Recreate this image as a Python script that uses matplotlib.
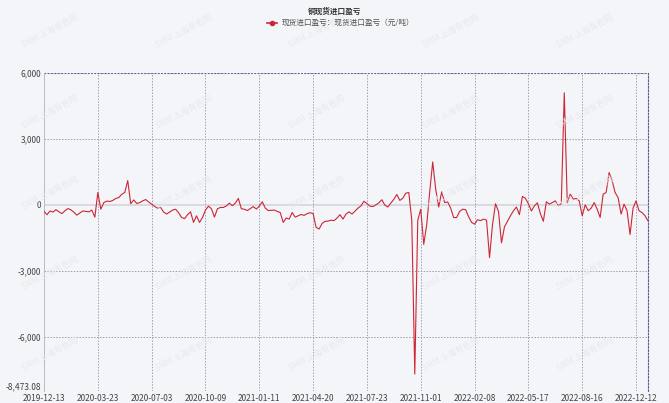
import matplotlib.pyplot as plt
import numpy as np

plt.rcParams['font.family'] = ['Noto Sans CJK SC', 'DejaVu Sans']

title = '铜现货进口盈亏'
series_name = '现货进口盈亏：现货进口盈亏（元/吨）'
tick_labels = ['2019-12-13', '2020-03-23', '2020-07-03', '2020-10-09', '2021-01-11', '2021-04-20',
               '2021-07-23', '2021-11-01', '2022-02-08', '2022-05-17', '2022-08-16', '2022-12-12']
y_ticks = [6000, 3000, 0, -3000, -6000, -8473.08]
y_tick_labels = ['6,000', '3,000', '0', '-3,000', '-6,000', '-8,473.08']

# profit/loss values (yuan/ton)
values = [
    -300, -450, -280, -330, -220, -320, -400, -270, -170, -230,
    -340, -470, -370, -280, -300, -320, -240, -560, 560, -200,
    100, 170, 150, 200, 290, 330, 480, 560, 1100, 50,
    220, 60, 100, 180, 240, 130, 30, -70, -160, -120,
    -330, -420, -330, -240, -200, -360, -575, -630, -450, -320,
    -800, -500, -800, -580, -240, -60, -180, -560, -180, -120,
    -120, -50, 75, -40, 80, 290, -180, -200, -260, -170,
    -80, -190, -60, 140, -150, -260, -250, -240, -300, -350,
    -800, -600, -650, -350, -560, -500, -440, -480, -400, -360,
    -400, -1030, -1100, -850, -750, -740, -700, -720, -600, -450,
    -650, -420, -320, -420, -290, -150, -50, 160, 60, -60,
    -80, 0, 90, 230, -20, -100, 80, 250, 470, 200,
    300, 530, 560, -700, -7703, -700, -200, -1800, -900, 600,
    1950, 700, -100, 590, 100, 130, -150, -580, -580, -300,
    -200, -220, -540, -800, -880, -680, -720, -650, -700, -2400,
    -900, 50, -300, -1730, -1000, -750, -500, -270, -100, -450,
    380, 300, 50, -280, -50, 90, -400, -750, 140, 30,
    100, 180, -45, 50, 5100, 100, 485, 260, 290, 180,
    -500, 0, -270, -150, 100, -200, -575, 485, 560, 1470,
    1100, 560, 330, -420, 30, -270, -1350, -150, 180, -270,
    -350, -500, -730,
]
tick_step = 18

bg = '#f4f5f8'
red = '#cc2635'
fig = plt.figure(figsize=(6.69, 4.03), dpi=100, facecolor=bg)
ax = fig.add_axes([0.0658, 0.0298, 0.9028, 0.7891], facecolor=bg)

# watermark
for wx in np.arange(0.03, 1.0, 0.2):
    for wy in np.arange(0.08, 0.95, 0.2):
        fig.text(wx, wy, 'SMM 上海有色网', fontsize=6, color='#e8e9ed', rotation=28, zorder=0)

x = np.arange(len(values))
ax.plot(x, values, color=red, linewidth=0.8, zorder=3)

ax.set_xlim(0, len(values) - 1)
ax.set_ylim(-8473.08, 6000)
ax.set_yticks(y_ticks)
ax.set_yticklabels(y_tick_labels)
ax.set_xticks(np.arange(len(tick_labels)) * tick_step)
ax.set_xticklabels(tick_labels)
ax.tick_params(axis='both', length=0, labelsize=6, colors='#444444')
ax.tick_params(axis='x', pad=2)
ax.tick_params(axis='y', pad=2)
ax.get_yticklabels()[-1].set_va('bottom')

# grid
for yv in [6000, 3000, -3000, -6000, -8473.08]:
    ax.axhline(yv, color='#9a9cb8', linewidth=0.7, linestyle=(0, (1.5, 1.5)), zorder=0)
ax.axhline(0, color='#d4d5dc', linewidth=1.2, zorder=0)
for xv in np.arange(1, len(tick_labels)) * tick_step:
    ax.axvline(xv, color='#a0a2b6', linewidth=0.7, linestyle=(0, (1.5, 1.5)), zorder=0)

for s in ['top', 'bottom']:
    ax.spines[s].set_visible(False)
ax.spines['left'].set_color('#b8bac8')
ax.spines['left'].set_linewidth(0.7)
ax.spines['right'].set_color('#5a5f90')
ax.spines['right'].set_linestyle((0, (1.5, 1.5)))
ax.spines['right'].set_linewidth(0.8)
ax.axhline(6000, color='#5a5f90', linewidth=0.8, linestyle=(0, (1.5, 1.5)), zorder=1)

# title and legend
fig.text(0.5, 0.983, title, ha='center', va='top', fontsize=5.5, fontweight='bold', color='#333333')
lx = 272 / 669
ly = 1 - 23 / 403
fig.add_artist(plt.Line2D([lx - 0.008, lx + 0.008], [ly, ly], color=red, linewidth=1.2))
fig.add_artist(plt.Line2D([lx], [ly], color=red, marker='o', markersize=3, linestyle='none'))
fig.text(lx + 0.014, ly, series_name, ha='left', va='center', fontsize=5.5, color='#555555')

fig.savefig('out.png', dpi=100, facecolor=bg)
